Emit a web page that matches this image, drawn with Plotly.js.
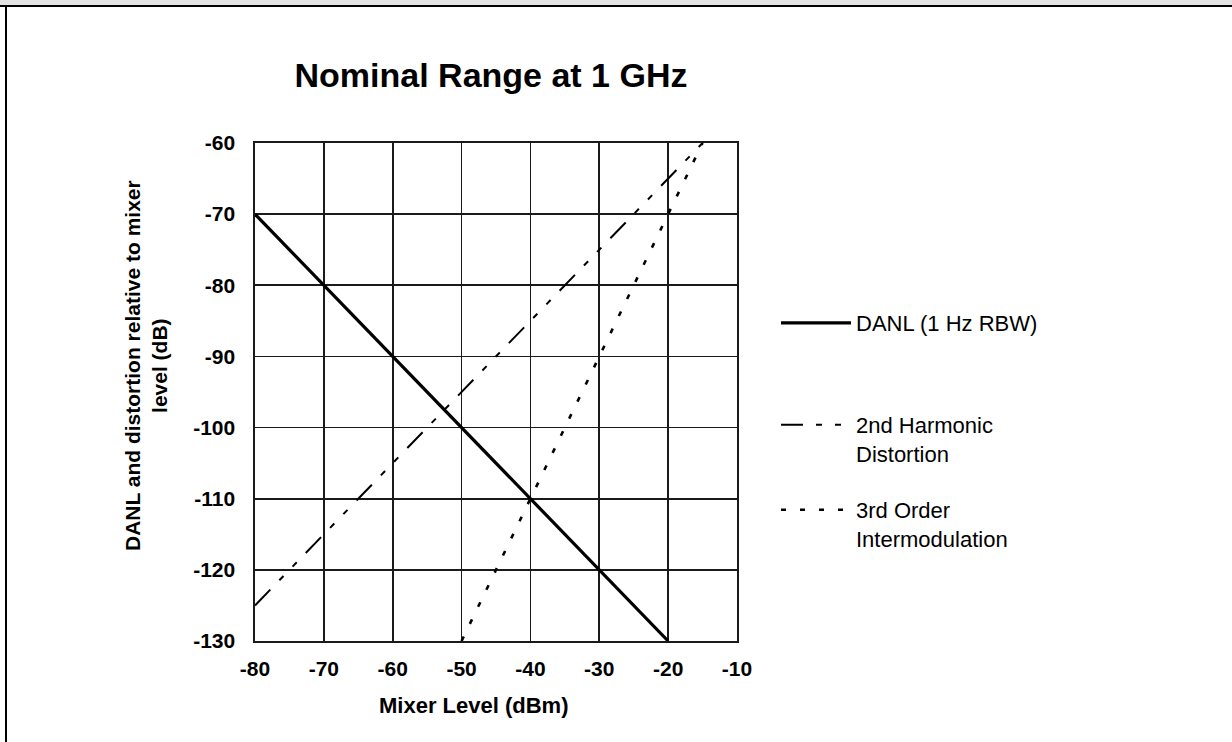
<!DOCTYPE html>
<html>
<head>
<meta charset="utf-8">
<script src="https://cdn.plot.ly/plotly-3.0.1.min.js"></script>
<style>
  html, body { margin: 0; padding: 0; background: #ffffff; }
  #wrap { position: relative; width: 1232px; height: 742px; overflow: hidden; background: #ffffff; }
  #chart { position: absolute; left: 0; top: 0; width: 1232px; height: 742px; }
  .frame { position: absolute; z-index: 10; pointer-events: none; }
</style>
</head>
<body>
<div id="wrap">
  <div id="chart"></div>
  <div class="frame" style="left:0;top:0;width:1232px;height:5px;background:#e3e3e3;"></div>
  <div class="frame" style="left:0;top:5px;width:1232px;height:2px;background:#000;"></div>
  <div class="frame" style="left:5px;top:5px;width:2px;height:737px;background:#000;"></div>
</div>
<script>
// ---- data ----
var danlX = [-80, -20];
var danlY = [-70, -130];
var harm2X = [-80, -15];
var harm2Y = [-125, -60];
var im3X = [-50, -15];
var im3Y = [-130, -60];
var seriesNames = ["DANL (1 Hz RBW)", "2nd Harmonic<br>Distortion", "3rd Order<br>Intermodulation"];
var xTicks = [-80, -70, -60, -50, -40, -30, -20, -10];
var yTicks = [-60, -70, -80, -90, -100, -110, -120, -130];
var chartTitle = "Nominal Range at 1 GHz";
var xTitle = "Mixer Level (dBm)";
var yTitle = "DANL and distortion relative to mixer<br>level (dB)";

var FONT = "Arial, 'Liberation Sans', sans-serif";

var traces = [
  { x: danlX, y: danlY, name: seriesNames[0], mode: "lines", legend: "legend",
    line: { color: "#000", width: 3.2, dash: "solid" } },
  { x: harm2X, y: harm2Y, name: seriesNames[1], mode: "lines", legend: "legend2",
    line: { color: "#000", width: 2, dash: "22px,13px,6px,13px,6px,13px" } },
  { x: im3X, y: im3Y, name: seriesNames[2], mode: "lines", legend: "legend3",
    line: { color: "#000", width: 2.6, dash: "5px,14px" } }
];

var L = 255, R = 737, T = 143, B = 641;
function px2x(p) { return (p - L) / (R - L); }
function px2y(p) { return 1 - (p - T) / (B - T); }

var legendCommon = {
  xanchor: "left", yanchor: "top", bgcolor: "rgba(0,0,0,0)", borderwidth: 0,
  itemwidth: 70, valign: "top", font: { family: FONT, size: 22, color: "#000" },
  itemclick: false, itemdoubleclick: false
};

var layout = {
  width: 1232, height: 742,
  paper_bgcolor: "#ffffff", plot_bgcolor: "#ffffff",
  margin: { l: L, r: 1232 - R, t: T, b: 742 - B, pad: 0 },
  showlegend: true,
  title: { text: "<b>" + chartTitle + "</b>", font: { family: FONT, size: 34, color: "#000" },
           x: px2x(491), xref: "paper", xanchor: "center", y: 1 - 75 / 742, yref: "container", yanchor: "middle" },
  xaxis: {
    range: [-80, -10], tickvals: xTicks, ticktext: xTicks.map(String),
    showgrid: true, gridcolor: "#1a1a1a", gridwidth: 1.6, zeroline: false,
    showline: true, linecolor: "#1a1a1a", linewidth: 1.6, mirror: true,
    ticks: "", ticklabelstandoff: 8,
    tickfont: { family: FONT, size: 21, color: "#000", weight: "bold" }
  },
  yaxis: {
    range: [-130, -60], tickvals: yTicks, ticktext: yTicks.map(String),
    showgrid: true, gridcolor: "#1a1a1a", gridwidth: 1.6, zeroline: false,
    showline: true, linecolor: "#1a1a1a", linewidth: 1.6, mirror: true,
    ticks: "", ticklabelstandoff: 14,
    tickfont: { family: FONT, size: 21, color: "#000", weight: "bold" }
  },
  annotations: [
    { text: "<b>" + xTitle + "</b>", xref: "paper", yref: "paper", x: px2x(474), y: px2y(705),
      xanchor: "center", yanchor: "middle", showarrow: false,
      font: { family: FONT, size: 22, color: "#000" } },
    { text: "<b>" + yTitle + "</b>", xref: "paper", yref: "paper", x: px2x(146), y: px2y(366),
      xanchor: "center", yanchor: "middle", showarrow: false, textangle: -90,
      font: { family: FONT, size: 21, color: "#000" } }
  ],
  legend: Object.assign({}, legendCommon, { x: px2x(776), y: px2y(302) }),
  legend2: Object.assign({}, legendCommon, { x: px2x(776), y: px2y(404) }),
  legend3: Object.assign({}, legendCommon, { x: px2x(776), y: px2y(489) })
};

Plotly.newPlot("chart", traces, layout, { displayModeBar: false, staticPlot: true });
</script>
</body>
</html>
